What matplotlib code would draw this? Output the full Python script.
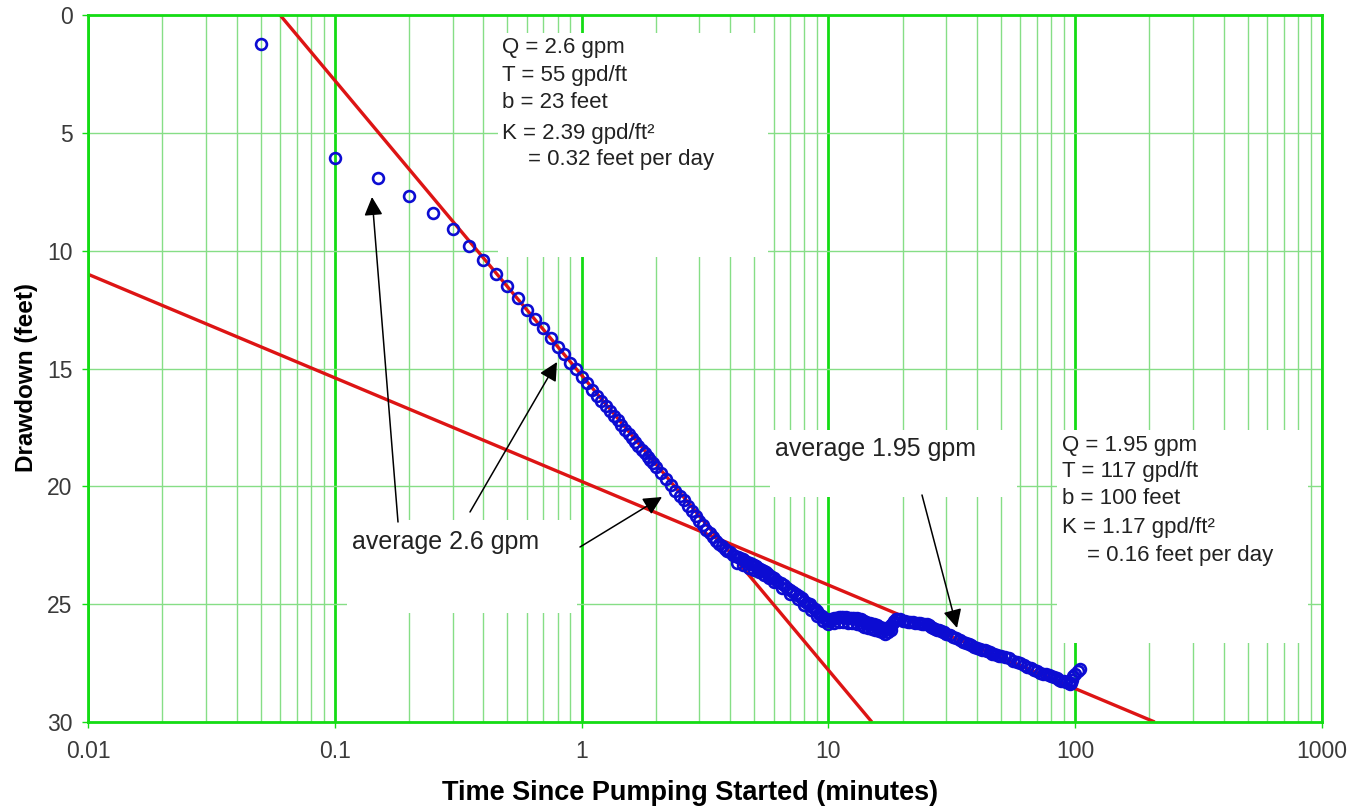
import matplotlib
matplotlib.use("Agg")
import matplotlib.pyplot as plt
from matplotlib.patches import Rectangle
from matplotlib.ticker import FixedLocator, FixedFormatter, NullFormatter

# ---------------- data ----------------
time_min = [0.05, 0.10, 0.15, 0.20, 0.25, 0.30, 0.35, 0.40, 0.45, 0.50,
            0.55, 0.60, 0.65, 0.70, 0.75, 0.80, 0.85, 0.90, 0.95, 1.00,
            1.05, 1.10, 1.15, 1.20, 1.25, 1.30, 1.35, 1.40, 1.45, 1.50,
            1.55, 1.60, 1.65, 1.70, 1.75, 1.80, 1.85, 1.90, 1.95, 2.0,
            2.1, 2.2, 2.3, 2.4, 2.5, 2.6, 2.7, 2.8, 2.9, 3.0,
            3.1, 3.2, 3.3, 3.4, 3.5, 3.6, 3.7, 3.8, 3.9, 4.0,
            4.1, 4.2, 4.3, 4.4, 4.5, 4.6, 4.7, 4.8, 4.9, 5.0,
            5.1, 5.2, 5.3, 5.4, 5.5, 5.6, 5.7, 5.8, 5.9, 6.0,
            6.2, 6.4, 6.6, 6.8, 7.0, 7.2, 7.4, 7.6, 7.8, 8.0,
            8.2, 8.4, 8.6, 8.8, 9.0, 9.2, 9.4, 9.6, 9.8, 10.0,
            10.25, 10.5, 10.75, 11.0, 11.25, 11.5, 11.75, 12.0, 12.25, 12.5,
            12.75, 13.0, 13.25, 13.5, 13.75, 14.0, 14.25, 14.5, 14.75, 15.0,
            15.25, 15.5, 15.75, 16.0, 16.25, 16.5, 16.75, 17.0, 17.25, 17.5,
            17.75, 18.0, 18.25, 18.5, 18.75, 19.0, 19.5, 20.0, 20.5, 21.0,
            21.5, 22.0, 22.5, 23.0, 23.5, 24.0, 24.5, 25.0, 25.5, 26.0,
            26.5, 27.0, 27.5, 28.0, 28.5, 29.0, 29.5, 30.0, 31, 32,
            33, 34, 35, 36, 37, 38, 39, 40, 41, 42,
            43, 44, 45, 46, 47, 48, 49, 50, 52, 54,
            56, 58, 60, 62, 64, 66, 68, 70, 72, 74,
            76, 78, 80, 82, 84, 86, 88, 90, 92, 94,
            95, 96, 97, 98, 100, 103, 105]
drawdown_ft = [1.25, 6.05, 6.9, 7.7, 8.4, 9.1, 9.8, 10.4, 11.0, 11.5,
               12.0, 12.5, 12.9, 13.3, 13.7, 14.1, 14.4, 14.75, 15.0, 15.35,
               15.6, 15.9, 16.15, 16.4, 16.6, 16.8, 17.0, 17.2, 17.4, 17.6,
               17.8, 17.95, 18.1, 18.3, 18.45, 18.6, 18.75, 18.9, 19.0, 19.2,
               19.45, 19.7, 19.95, 20.2, 20.4, 20.6, 20.85, 21.05, 21.25, 21.45,
               21.65, 21.85, 22.0, 22.15, 22.3, 22.45, 22.55, 22.65, 22.75, 22.8,
               22.9, 22.95, 23.0, 23.05, 23.1, 23.15, 23.2, 23.25, 23.3, 23.35,
               23.4, 23.45, 23.5, 23.55, 23.6, 23.65, 23.7, 23.8, 23.85, 23.9,
               24.0, 24.1, 24.2, 24.3, 24.4, 24.5, 24.55, 24.65, 24.75, 24.85,
               24.95, 25.0, 25.1, 25.2, 25.3, 25.4, 25.5, 25.6, 25.65, 25.7,
               25.65, 25.6, 25.6, 25.55, 25.55, 25.55, 25.55, 25.6, 25.6, 25.6,
               25.6, 25.6, 25.65, 25.65, 25.7, 25.7, 25.75, 25.8, 25.8, 25.85,
               25.85, 25.9, 25.9, 25.95, 25.95, 26.0, 26.0, 26.05, 26.05, 26.0,
               25.95, 25.9, 25.8, 25.7, 25.65, 25.65, 25.65, 25.7, 25.7, 25.75,
               25.75, 25.75, 25.8, 25.8, 25.8, 25.85, 25.85, 25.85, 25.9, 25.95,
               26.0, 26.05, 26.1, 26.1, 26.15, 26.2, 26.2, 26.25, 26.3, 26.4,
               26.45, 26.5, 26.6, 26.65, 26.7, 26.75, 26.8, 26.85, 26.9, 26.95,
               26.95, 27.0, 27.05, 27.1, 27.1, 27.15, 27.2, 27.2, 27.25, 27.3,
               27.4, 27.45, 27.5, 27.6, 27.65, 27.7, 27.8, 27.85, 27.9, 27.95,
               27.95, 28.0, 28.05, 28.1, 28.15, 28.2, 28.25, 28.25, 28.3, 28.35,
               28.4, 28.35, 28.2, 28.05, 27.95, 27.85, 27.75]

# scattered readings forming the lower (deeper) edge of the thick band
edge_time = [4.25, 4.5, 4.75, 5.0, 5.25, 5.5, 5.75, 6.0, 6.5, 7.0,
             7.5, 8.0, 8.5, 9.0, 9.5, 10.0, 10.5, 11.0, 11.5, 12.0,
             12.5, 13.0, 13.5, 14.0, 14.5, 15.0, 15.5, 16.0, 16.5, 17.0,
             17.5, 18.0]
edge_drawdown = [23.25, 23.35, 23.45, 23.55, 23.65, 23.75, 23.9, 24.05, 24.3, 24.55,
                 24.8, 25.05, 25.25, 25.5, 25.7, 25.85, 25.8, 25.75, 25.75, 25.8,
                 25.8, 25.85, 25.9, 25.95, 26.0, 26.05, 26.1, 26.15, 26.2, 26.25,
                 26.2, 26.1]

# straight-line fits (time, drawdown) end points
fit1_time = [0.06, 15.0]
fit1_drawdown = [0.0, 30.0]
fit2_time = [0.01, 210.0]
fit2_drawdown = [11.0, 30.0]

x_ticks = [0.01, 0.1, 1, 10, 100, 1000]
x_tick_labels = ["0.01", "0.1", "1", "10", "100", "1000"]
y_ticks = [0, 5, 10, 15, 20, 25, 30]

box1_lines = ["Q = 2.6 gpm", "T = 55 gpd/ft", "b = 23 feet",
              "K = 2.39 gpd/ft\u00b2", "    = 0.32 feet per day"]
box2_lines = ["Q = 1.95 gpm", "T = 117 gpd/ft", "b = 100 feet",
              "K = 1.17 gpd/ft\u00b2", "    = 0.16 feet per day"]

# ---------------- style ----------------
W, H = 1349, 809
AX_L, AX_R, AX_T, AX_B = 88, 1322, 15, 722
MAJOR_G = "#14dc14"
MINOR_G = "#86de86"
TXT = "#222222"
FONT = ["Liberation Sans", "DejaVu Sans"]

fig = plt.figure(figsize=(W / 100, H / 100), dpi=100)
ax = fig.add_axes([AX_L / W, (H - AX_B) / H, (AX_R - AX_L) / W, (AX_B - AX_T) / H])


def fx(x):
    return (x - AX_L) / (AX_R - AX_L)


def fy(y):
    return 1 - (y - AX_T) / (AX_B - AX_T)


ax.set_xscale("log")
ax.set_xlim(0.01, 1000)
ax.set_ylim(30, 0)
ax.set_axisbelow(True)

ax.xaxis.set_major_locator(FixedLocator(x_ticks))
ax.xaxis.set_major_formatter(FixedFormatter(x_tick_labels))
minor = [m * d for d in [0.01, 0.1, 1, 10, 100] for m in range(2, 10)]
ax.xaxis.set_minor_locator(FixedLocator(minor))
ax.xaxis.set_minor_formatter(NullFormatter())
ax.yaxis.set_major_locator(FixedLocator(y_ticks))

ax.grid(True, which="major", axis="x", color=MAJOR_G, lw=2.0)
ax.grid(True, which="minor", axis="x", color=MINOR_G, lw=1.0)
ax.grid(True, which="major", axis="y", color=MINOR_G, lw=1.0)

for s in ax.spines.values():
    s.set_color(MAJOR_G)
    s.set_linewidth(2.0)

ax.tick_params(axis="both", which="major", color=MAJOR_G, length=4, width=1,
               labelsize=16.5, labelcolor="#3a3a3a")
ax.tick_params(axis="x", which="major", pad=9)
ax.tick_params(axis="y", which="major", pad=7)
ax.tick_params(axis="x", which="minor", length=0)
for lab in ax.get_xticklabels() + ax.get_yticklabels():
    lab.set_family(FONT)

# white text boxes covering the grid
boxes = [(498, 33, 768, 257), (347, 520, 577, 613),
         (770, 430, 1017, 497), (1057, 430, 1308, 643)]
for x0, y0, x1, y1 in boxes:
    ax.add_patch(Rectangle((fx(x0), fy(y1)), fx(x1) - fx(x0), fy(y0) - fy(y1),
                           transform=ax.transAxes, facecolor="white",
                           edgecolor="none", zorder=1))

# fitted lines
ax.plot(fit1_time, fit1_drawdown, color="#dd1414", lw=2.4, zorder=2,
        solid_capstyle="butt")
ax.plot(fit2_time, fit2_drawdown, color="#dd1414", lw=2.4, zorder=2,
        solid_capstyle="butt")

# observed data
for tt, ss in ((time_min, drawdown_ft), (edge_time, edge_drawdown)):
    ax.plot(tt, ss, ls="none", marker="o", ms=7.8,
            mfc="none", mec="#0c0cd2", mew=1.9, zorder=3)


def put_lines(lines, x, y_list, indent_x):
    for t, y in zip(lines, y_list):
        xx = x
        if t.startswith("    "):
            t = t.strip()
            xx = indent_x
        ax.text(fx(xx), fy(y), t, transform=ax.transAxes, ha="left",
                va="center", fontsize=16, color=TXT, family=FONT, zorder=5)


put_lines(box1_lines, 502, [48, 75, 102, 133, 160], 528)
put_lines(box2_lines, 1062, [445, 471, 498, 528, 556], 1087)
ax.text(fx(352), fy(542), "average 2.6 gpm", transform=ax.transAxes,
        ha="left", va="center", fontsize=18, color=TXT, family=FONT, zorder=5)
ax.text(fx(775), fy(449), "average 1.95 gpm", transform=ax.transAxes,
        ha="left", va="center", fontsize=18, color=TXT, family=FONT, zorder=5)

arrows = [((398, 522), (372, 197)), ((470, 512), (557, 362)),
          ((580, 547), (662, 497)), ((922, 495), (957, 628))]
for (tx, ty), (hx, hy) in arrows:
    ax.annotate("", xy=(fx(hx), fy(hy)), xytext=(fx(tx), fy(ty)),
                xycoords="axes fraction", textcoords="axes fraction",
                arrowprops=dict(arrowstyle="-|>", color="black", lw=1.1,
                                mutation_scale=28, shrinkA=0, shrinkB=0),
                zorder=6)

fig.text(690 / W, 1 - 793 / H, "Time Since Pumping Started (minutes)",
         ha="center", va="center", fontsize=19.5, fontweight="bold",
         family=FONT, color="black")
fig.text(27 / W, 1 - 378 / H, "Drawdown (feet)", rotation=90,
         ha="center", va="center", fontsize=17.5, fontweight="bold",
         family=FONT, color="black")

fig.savefig("out.png", dpi=100, facecolor="white")
